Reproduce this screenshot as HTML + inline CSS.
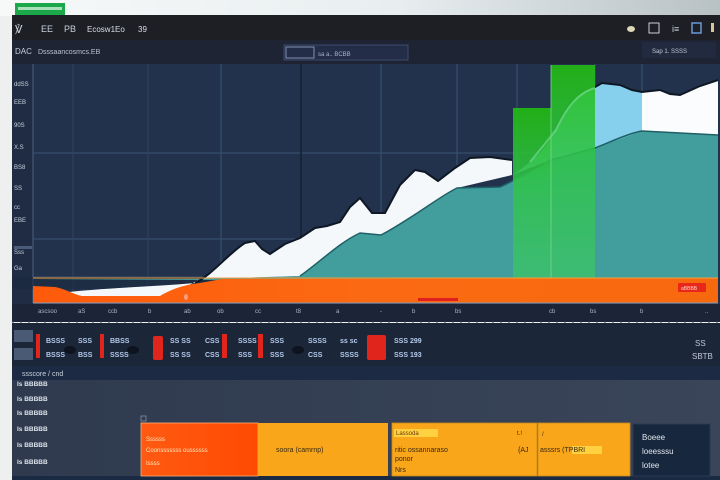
<!DOCTYPE html>
<html><head><meta charset="utf-8"><style>
html,body{margin:0;padding:0;background:#f0f2f2;}
svg{display:block;font-family:"Liberation Sans",sans-serif;}
</style></head><body>
<svg width="720" height="480" viewBox="0 0 720 480" xmlns="http://www.w3.org/2000/svg">
<defs>
<linearGradient id="top" x1="0" x2="1" y1="0" y2="0"><stop offset="0" stop-color="#f7f9f9"/><stop offset="0.55" stop-color="#e8eef0"/><stop offset="1" stop-color="#b8c1c4"/></linearGradient>
<linearGradient id="gbar" x1="0" x2="0" y1="0" y2="1"><stop offset="0" stop-color="#22c010"/><stop offset="0.45" stop-color="#30c24c"/><stop offset="1" stop-color="#3dbf70"/></linearGradient>
<linearGradient id="orng" x1="0" x2="1" y1="0" y2="0"><stop offset="0" stop-color="#ff5a0c"/><stop offset="0.5" stop-color="#fb6a12"/><stop offset="1" stop-color="#f7690f"/></linearGradient>
<linearGradient id="low" x1="0" x2="1" y1="0" y2="0"><stop offset="0" stop-color="#2f3a4f"/><stop offset="1" stop-color="#3a4559"/></linearGradient>
<linearGradient id="c1" x1="0" x2="1" y1="0" y2="0"><stop offset="0" stop-color="#ff5a12"/><stop offset="1" stop-color="#ff4a02"/></linearGradient>
</defs>
<rect x="0" y="0" width="720" height="16" fill="url(#top)"/>
<rect x="15" y="3" width="50" height="12" fill="#1aa84a"/>
<rect x="18" y="7" width="44" height="3" fill="#e8f8e8" opacity="0.7"/>
<rect x="0" y="16" width="12" height="464" fill="#eef0f0"/>
<rect x="12" y="15" width="708" height="25" fill="#1d1f24"/>
<text x="15" y="33" font-size="11" fill="#cfd4da">℣</text>
<text x="41" y="32" font-size="9" fill="#c8d0dc">EE</text>
<text x="64" y="32" font-size="9" fill="#c8d0dc">PB</text>
<text x="87" y="32" font-size="8" fill="#d8dde4">Ecosw1Eo</text>
<text x="138" y="32" font-size="8" fill="#d8dde4">39</text>
<ellipse cx="631" cy="29" rx="4" ry="3" fill="#dcd8b8"/>
<rect x="649" y="23" width="10" height="10" fill="none" stroke="#c8d0d8" stroke-width="1"/>
<text x="672" y="32" font-size="9" fill="#c8d0d8">i≡</text>
<rect x="692" y="23" width="9" height="10" fill="none" stroke="#6a9ad8" stroke-width="1.5"/>
<rect x="711" y="23" width="3" height="9" fill="#d8c890"/>
<rect x="12" y="40" width="708" height="24" fill="#1e2434"/>
<text x="15" y="54" font-size="8" fill="#c8d0dc">DAC</text>
<text x="38" y="54" font-size="7" fill="#b8c2d0">Dsssaancosmcs.EB</text>
<rect x="284" y="45" width="124" height="15" fill="#232d48" stroke="#3d4a6c"/>
<rect x="286" y="47" width="28" height="11" fill="none" stroke="#8090b0"/>
<text x="318" y="56" font-size="6" fill="#a8b4c8">sa a.. BCBB</text>
<rect x="642" y="42" width="74" height="16" fill="#222a40"/>
<text x="652" y="53" font-size="6" fill="#c0c8d4">Sap 1.  SSSS</text>
<rect x="12" y="64" width="708" height="240" fill="#22324d"/>
<rect x="12" y="64" width="21" height="240" fill="#1f2c44"/>
<line x1="33" y1="64" x2="33" y2="303" stroke="#4a6280" stroke-width="1"/>
<g stroke="#3a5472" stroke-width="1">
<line x1="33" y1="153" x2="718" y2="153"/>
<line x1="33" y1="239" x2="718" y2="239"/>
<line x1="33" y1="277" x2="718" y2="277"/>
<line x1="221" y1="64" x2="221" y2="303"/>
<line x1="381" y1="64" x2="381" y2="303"/>
<line x1="457" y1="64" x2="457" y2="303"/>
<line x1="517" y1="64" x2="517" y2="303"/>
<line x1="595" y1="64" x2="595" y2="303"/>
<line x1="642" y1="64" x2="642" y2="303"/>
</g>
<g stroke="#2d4360" stroke-width="1">
<line x1="73" y1="64" x2="73" y2="303"/>
<line x1="148" y1="64" x2="148" y2="303"/>
</g>
<line x1="301" y1="64" x2="301" y2="303" stroke="#151f30" stroke-width="1.5"/>
<rect x="12" y="277" width="706" height="12" fill="#1b2a40" opacity="0.6"/>
<g font-size="6" fill="#c8d2de">
<text x="14" y="86">ddSS</text><text x="14" y="104">EEB</text><text x="14" y="127">90S</text>
<text x="14" y="149">X.S</text><text x="14" y="169">BS8</text><text x="14" y="190">SS</text>
<text x="14" y="209">cc</text><text x="14" y="222">EBE</text><text x="14" y="254">Sss</text><text x="14" y="270">Ga</text>
</g>
<rect x="14" y="246" width="18" height="3" fill="#4a5c7a"/>
<path d="M33,280 L200,279 L300,276 C320,262 340,242 360,233 L381,235 C410,220 440,196 457,188 L500,187 C520,178 540,166 551,160 L595,148 C615,140 630,133 642,131 L718,135 L718,280 Z" fill="#419e9d"/>
<path d="M60,293 C100,288 150,287 195,283 C212,275 230,252 245,243 L255,241 L262,249 L270,254 L285,244 L300,238 L315,228 L327,226 L340,222 L350,207 L360,198 L372,213 L385,213 L400,185 L415,170 L425,172 L438,181 L455,168 L470,158 L490,157 L512,160 L512,175 L457,188 L381,235 L360,233 C340,242 320,262 300,276 L200,279 L170,296 L80,297 Z" fill="#f5f8fa"/>
<path d="M512,175 C528,165 545,152 555,130 C568,102 580,90 595,87 L602,83 L620,85 L632,90 L642,92 L642,131 L595,148 L551,160 Z" fill="#86d0ee"/>
<path d="M642,92 L660,90 L670,94 L680,95 L700,86 L718,80 L718,135 L642,131 Z" fill="#fafcfd"/>
<path d="M195,283 C212,275 230,252 245,243 L255,241 L262,249 L270,254 L285,244 L300,238 L315,228 L327,226 L340,222 L350,207 L360,198 L372,213 L385,213 L400,185 L415,170 L425,172 L438,181 L455,168 L470,158 L490,157 L512,160" fill="none" stroke="#0e1724" stroke-width="2"/>
<path d="M555,130 C568,102 580,90 595,87 L602,83 L620,85 L632,90 L642,92 L660,90 L670,94 L680,95 L700,86 L718,80" fill="none" stroke="#0e1724" stroke-width="2"/>
<path d="M300,276 C320,262 340,242 360,233 L381,235 C410,220 440,196 457,188 L500,187 C520,178 540,166 551,160 L595,148 C615,140 630,133 642,131 L718,135" fill="none" stroke="#1f5f66" stroke-width="1.5"/>
<rect x="513" y="108" width="38" height="170" fill="url(#gbar)" opacity="0.88"/>
<rect x="551" y="65" width="44" height="213" fill="url(#gbar)" opacity="0.88"/>
<path d="M530,162 C540,150 548,140 556,130 C568,104 580,92 595,88" fill="none" stroke="#7ee0a0" stroke-width="2" opacity="0.6"/>
<line x1="551" y1="65" x2="551" y2="278" stroke="#7ad88a" stroke-width="0.8"/>
<path d="M33,286 L55,287 C66,289 72,294 82,296 L160,296 C170,290 182,285 200,283 L222,279 L718,278 L718,303 L33,303 Z" fill="url(#orng)"/>
<line x1="33" y1="278" x2="718" y2="278" stroke="#f2a040" stroke-width="1"/>
<rect x="418" y="298" width="40" height="3" fill="#e02020"/>
<rect x="678" y="283" width="28" height="9" rx="1" fill="#e8261a"/>
<text x="681" y="290" font-size="5" fill="#ffd8c8">aBBBB</text>
<ellipse cx="186" cy="297" rx="2" ry="3" fill="#f0a080"/>
<line x1="33" y1="303" x2="718" y2="303" stroke="#8a9ab0" stroke-width="1"/>
<rect x="12" y="304" width="708" height="18" fill="#1c2538"/>
<g font-size="6" fill="#a8b4c4">
<text x="38" y="313">ascsoo</text><text x="78" y="313">aS</text><text x="108" y="313">ccb</text>
<text x="148" y="313">b</text><text x="184" y="313">ab</text><text x="217" y="313">ob</text>
<text x="255" y="313">cc</text><text x="296" y="313">t8</text><text x="336" y="313">a</text>
<text x="380" y="313">-</text><text x="412" y="313">b</text><text x="455" y="313">bs</text>
<text x="549" y="313">cb</text><text x="590" y="313">bs</text><text x="640" y="313">b</text><text x="705" y="313">..</text>
</g>
<line x1="12" y1="322" x2="718" y2="322" stroke="#3a4860" stroke-dasharray="2,6"/>
<rect x="12" y="323" width="708" height="43" fill="#1c2639"/>
<rect x="14" y="330" width="19" height="12" fill="#4a5a74"/>
<rect x="14" y="348" width="19" height="12" fill="#4a5a74"/>
<g fill="#e0261c">
<rect x="36" y="334" width="4" height="24"/><rect x="100" y="334" width="4" height="24"/>
<rect x="153" y="336" width="10" height="24" rx="2"/><rect x="222" y="334" width="5" height="24"/>
<rect x="258" y="334" width="5" height="24"/><rect x="367" y="335" width="19" height="25" rx="2"/>
</g>
<g font-size="7" fill="#b4cbec" font-weight="bold">
<text x="46" y="343">BSSS</text><text x="46" y="357">BSSS</text>
<text x="78" y="343">SSS</text><text x="78" y="357">BSS</text>
<text x="110" y="343">BBSS</text><text x="110" y="357">SSSS</text>
<text x="170" y="343">SS SS</text><text x="170" y="357">SS SS</text>
<text x="205" y="343">CSS</text><text x="205" y="357">CSS</text>
<text x="238" y="343">SSSS</text><text x="238" y="357">SSS</text>
<text x="270" y="343">SSS</text><text x="270" y="357">SSS</text>
<text x="308" y="343">SSSS</text><text x="308" y="357">CSS</text>
<text x="340" y="343">ss sc</text><text x="340" y="357">SSSS</text>
<text x="394" y="343">SSS  299</text><text x="394" y="357">SSS  193</text>
</g>
<ellipse cx="70" cy="350" rx="6" ry="4" fill="#0d1420"/><ellipse cx="133" cy="350" rx="6" ry="4" fill="#0d1420"/>
<ellipse cx="298" cy="350" rx="6" ry="4" fill="#0d1420"/>
<text x="695" y="346" font-size="8" fill="#c0c8d4">SS</text>
<text x="692" y="359" font-size="8" fill="#c0c8d4">SBTB</text>
<rect x="12" y="366" width="708" height="14" fill="#1c2a43"/>
<text x="22" y="376" font-size="7" fill="#c8d0dc">ssscore / cnd</text>
<rect x="12" y="380" width="708" height="96" fill="url(#low)"/>
<rect x="12" y="476" width="708" height="4" fill="#1a2a42"/>
<g font-size="6.5" fill="#dce3ec" font-weight="bold">
<text x="17" y="386">Is  BBBBB</text><text x="17" y="401">Is  BBBBB</text><text x="17" y="415">Is  BBBBB</text>
<text x="17" y="431">Is  BBBBB</text><text x="17" y="447">Is  BBBBB</text><text x="17" y="464">Is  BBBBB</text>
</g>
<rect x="141" y="416" width="5" height="5" fill="none" stroke="#8090a8" stroke-width="0.8"/>
<rect x="141" y="423" width="117" height="53" fill="url(#c1)"/>
<rect x="141" y="423" width="117" height="53" fill="none" stroke="#ffb070" stroke-width="0.8"/>
<text x="146" y="441" font-size="6" fill="#ffe8c0">Ssssss</text>
<text x="146" y="452" font-size="6" fill="#ffe8c0">Coonsssssss  oussssss</text>
<text x="146" y="465" font-size="6" fill="#ffe8c0">Issss</text>
<rect x="258" y="423" width="130" height="53" fill="#f9a61a"/>
<text x="276" y="452" font-size="7" fill="#3a2a10">soora (camrnp)</text>
<rect x="392" y="423" width="145" height="53" fill="#f9a61a" stroke="#c88a20" stroke-width="0.8"/>
<rect x="394" y="429" width="44" height="8" fill="#ffd040"/>
<text x="396" y="435" font-size="6" fill="#6a3a10">Lassoda</text>
<text x="395" y="452" font-size="7" fill="#3a2a10">ritic  ossannaraso</text>
<text x="395" y="461" font-size="7" fill="#3a2a10">ponor</text>
<text x="395" y="472" font-size="7" fill="#3a2a10">Nrs</text>
<text x="517" y="435" font-size="6" fill="#3a2a10">t.!</text>
<text x="518" y="452" font-size="7" fill="#3a2a10">{AJ</text>
<rect x="538" y="423" width="92" height="53" fill="#f9a61a" stroke="#c88a20" stroke-width="0.8"/>
<text x="542" y="436" font-size="6" fill="#3a2a10">/</text>
<rect x="572" y="446" width="30" height="8" fill="#ffd040"/>
<text x="540" y="452" font-size="7" fill="#3a2a10">asssrs  (TPBRI</text>
<rect x="633" y="424" width="77" height="52" fill="#17273d" stroke="#2a3a54"/>
<text x="642" y="440" font-size="8" fill="#e0e6ee">Boeee</text>
<text x="642" y="454" font-size="8" fill="#e0e6ee">loeesssu</text>
<text x="642" y="468" font-size="8" fill="#e0e6ee">lotee</text>
</svg>
</body></html>
